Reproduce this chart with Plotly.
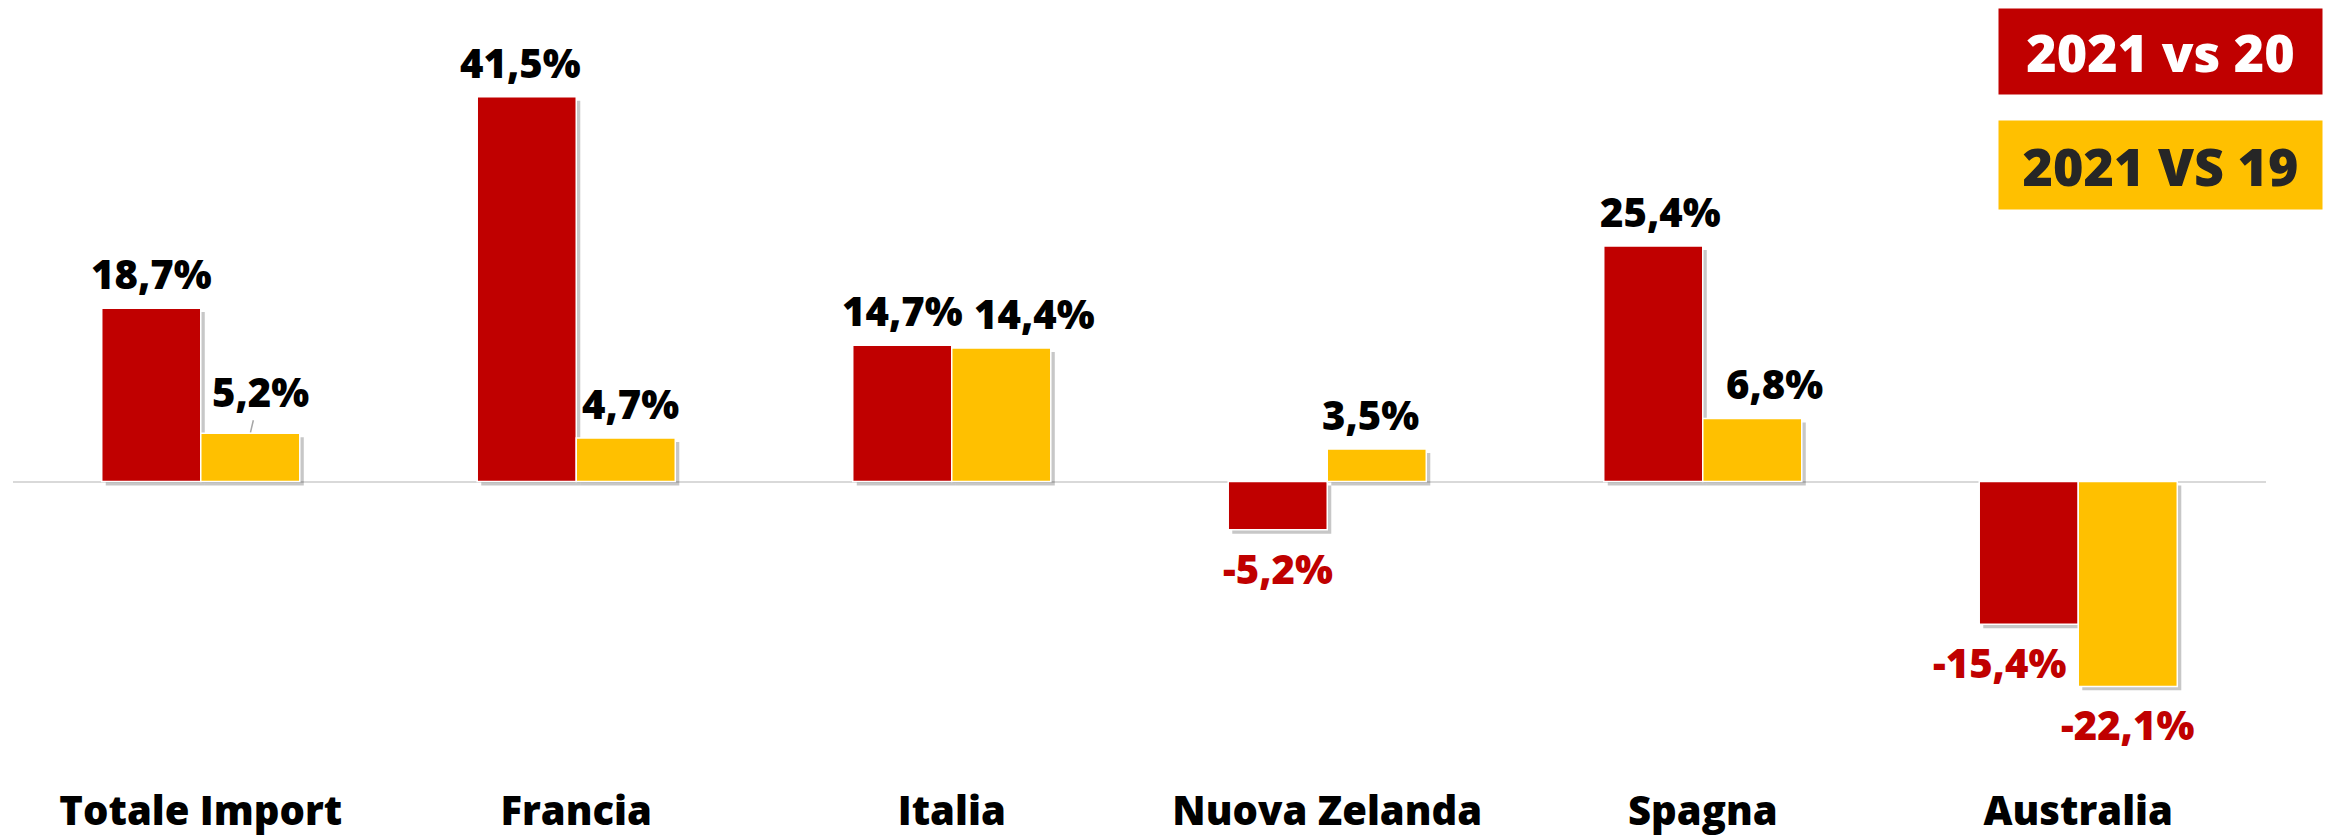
import plotly.graph_objects as go

categories = ["Totale Import", "Francia", "Italia", "Nuova Zelanda", "Spagna", "Australia"]
vs20 = [18.7, 41.5, 14.7, -5.2, 25.4, -15.4]
vs19 = [5.2, 4.7, 14.4, 3.5, 6.8, -22.1]
series_names = ["2021 vs 20", "2021 VS 19"]

RED = "#C00000"
YEL = "#FFC000"
FONT = "Open Sans"

W = 0.2637          # bar width in category units
SH_X = 0.0107       # shadow offset (category units)
SH_Y = 0.43         # shadow offset (value units)

fig = go.Figure()

# shadows
for vals, off in ((vs20, -W), (vs19, 0.0)):
    fig.add_trace(go.Bar(
        x=categories, y=vals, base=[-SH_Y] * len(vals),
        offset=off + SH_X, width=W,
        marker=dict(color="rgba(0,0,0,0.22)", line=dict(width=0)),
        hoverinfo="skip", showlegend=False))

# bars
for vals, off, col, name in ((vs20, -W, RED, series_names[0]), (vs19, 0.0, YEL, series_names[1])):
    fig.add_trace(go.Bar(
        x=categories, y=vals, offset=off, width=W, name=name,
        marker=dict(color=col, line=dict(color="white", width=1.5)),
        showlegend=False))

def fmt(v):
    return f"{v:.1f}".replace(".", ",") + "%"

# label tweaks (pixel shifts)
red_dx = [0, -6, 0, 0, 7, -29]
yel_dx = [0, 5, 33, -6, 22, 0]

LBL = dict(family=FONT, size=40, weight=800)

annotations = []
for i, c in enumerate(categories):
    for vals, base_dx, dxs in ((vs20, -49.5, red_dx), (vs19, 49.5, yel_dx)):
        v = vals[i]
        if c == "Totale Import" and vals is vs19:
            annotations.append(dict(
                x=c, y=v, xshift=base_dx, text=fmt(v), showarrow=True,
                ax=10, ay=-42, arrowhead=0, arrowwidth=1.5, arrowcolor="#A6A6A6",
                standoff=1, font=dict(LBL, color="#000000")))
            continue
        if v >= 0:
            annotations.append(dict(
                x=c, y=v, xshift=base_dx + dxs[i], yshift=5, yanchor="bottom",
                text=fmt(v), showarrow=False, font=dict(LBL, color="#000000")))
        else:
            annotations.append(dict(
                x=c, y=v, xshift=base_dx + dxs[i], yshift=-9, yanchor="top",
                text=fmt(v), showarrow=False, font=dict(LBL, color=RED)))

# legend boxes
annotations.append(dict(
    xref="paper", yref="paper", x=0.9532, y=0.9588, xanchor="center", yanchor="middle",
    text=series_names[0], showarrow=False, bgcolor=RED, width=323, height=85, borderpad=0,
    font=dict(family=FONT, size=52, weight=800, color="white")))
annotations.append(dict(
    xref="paper", yref="paper", x=0.9532, y=0.8102, xanchor="center", yanchor="middle",
    text=series_names[1], showarrow=False, bgcolor=YEL, width=323, height=88, borderpad=0,
    font=dict(family=FONT, size=52, weight=800, color="#262626")))

fig.update_layout(
    width=2331, height=830,
    margin=dict(l=5, r=73, t=12, b=54),
    paper_bgcolor="white", plot_bgcolor="white",
    barmode="overlay",
    annotations=annotations,
    xaxis=dict(showgrid=False, showline=False, ticks="", automargin=False,
               tickfont=dict(family=FONT, size=40, weight=800, color="#000000")),
    yaxis=dict(range=[-32.63, 49.78], showgrid=False, showticklabels=False,
               automargin=False,
               zeroline=True, zerolinecolor="#D9D9D9", zerolinewidth=2),
)

fig.write_html("out.html")
